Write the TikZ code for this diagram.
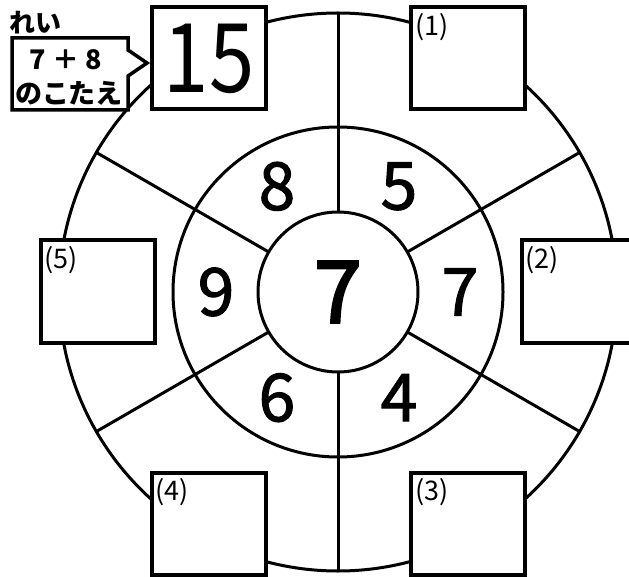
\documentclass[tikz,border=0pt]{standalone}
\usepackage{fontspec}
\newfontfamily\jp{Noto Sans CJK JP}
\newfontfamily\jpm{Noto Sans CJK JP}[FakeBold=1.6]
\newfontfamily\jpc{Noto Sans CJK JP}[FakeBold=2.6]
\usetikzlibrary{calc}
\begin{document}
\begin{tikzpicture}[x=1pt,y=-1pt,
  circ/.style={line width=3pt},
  ansbox/.style={draw,line width=4pt,fill=white,minimum width=114pt,minimum height=102pt,inner sep=0pt},
  lbl/.style={font=\jp\fontsize{27}{27}\selectfont,inner sep=0pt,anchor=north west},
  num/.style={font=\jpm\fontsize{66}{66}\selectfont,inner sep=0pt},
  callout/.style={draw,line width=3.5pt,fill=white,line join=miter},
  cotext/.style={font=\jp\bfseries\fontsize{26}{26}\selectfont,inner sep=0pt}
]
\useasboundingbox (0,0) rectangle (629,577);
\fill[white] (0,0) rectangle (629,577);
\coordinate (O) at (338,292);
\draw[circ] (O) circle[radius=279];
\draw[circ] (O) circle[radius=165];
\draw[circ] (O) circle[radius=80];
\foreach \a in {30,90,150,210,270,330}
  \draw[circ] ($(O)+(\a:80)$) -- ($(O)+(\a:279)$);
% numbers in the ring (y axis points down, so angles run clockwise)
\node[num] (n8) at ($(O)+(240:122)$) {8};
\node[num] (n5) at ($(O)+(300:122)$) {5};
\node[num] (n7r) at ($(O)+(0:122)$) {7};
\node[num] (n4) at ($(O)+(60:122)$) {4};
\node[num] (n6) at ($(O)+(120:122)$) {6};
\node[num] (n9) at ($(O)+(180:122)$) {9};
\node[num,font=\jpc\fontsize{86}{86}\selectfont] (nc) at (O) {7};
% answer boxes
\node[ansbox] (b15) at (209,58.5) {};
\node[ansbox] (b1) at (468,58.5) {};
\node[ansbox] (b5) at (97.5,291.5) {};
\node[ansbox] (b2) at (578.5,291.5) {};
\node[ansbox] (b4) at (208.5,523.5) {};
\node[ansbox] (b3) at (468,523.5) {};
\node[font=\jp\fontsize{96}{96}\selectfont,inner sep=0pt,xscale=0.85] (t15) at (b15.center) {15};
\node[lbl] (l1) at ([shift={(6,8)}]b1.north west) {(1)};
\node[lbl] (l2) at ([shift={(6,8)}]b2.north west) {(2)};
\node[lbl] (l3) at ([shift={(6,8)}]b3.north west) {(3)};
\node[lbl] (l4) at ([shift={(6,8)}]b4.north west) {(4)};
\node[lbl] (l5) at ([shift={(6,8)}]b5.north west) {(5)};
% callout
\draw[callout] (12,38) -- (128,38) -- (128,50) -- (147,63) -- (128,76) -- (128,110) -- (12,110) -- cycle;
\node[cotext,anchor=west] (rei) at (9,23) {れい};
\node[cotext,font=\jp\bfseries\fontsize{27}{27}\selectfont] (q) at (66,60) {7 ＋ 8};
\node[cotext,font=\jp\bfseries\fontsize{27}{27}\selectfont] (ans) at (69,93) {のこたえ};
\end{tikzpicture}
\end{document}
